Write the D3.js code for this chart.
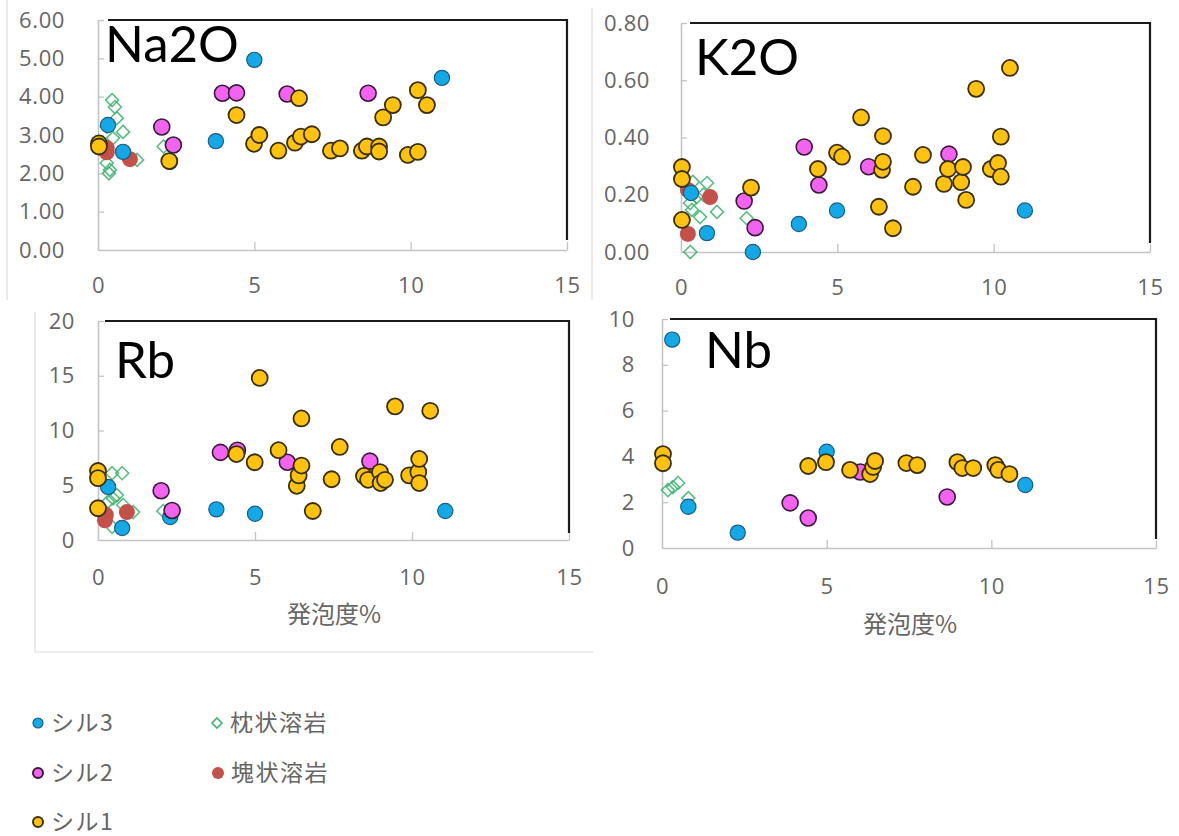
<!DOCTYPE html>
<html>
<head>
<meta charset="utf-8">
<script src="https://cdn.jsdelivr.net/npm/d3@7"></script>
<style>
  html, body { margin: 0; padding: 0; background: #fff; }
  svg { display: block; }
</style>
</head>
<body>
<svg id="chart" width="1179" height="836"></svg>
<script>
// 発泡度 (%) vs. composition for sills and lavas

const xTickValues = [0, 5, 10, 15];
const na2oTicks = [0, 1, 2, 3, 4, 5, 6];
const k2oTicks = [0, 0.2, 0.4, 0.6, 0.8];
const rbTicks = [0, 5, 10, 15, 20];
const nbTicks = [0, 2, 4, 6, 8, 10];

const seriesNames = ["シル3", "シル2", "シル1", "枕状溶岩", "塊状溶岩"];

// Na2O
const na2oSill3 = [[0.32,3.26],[0.8,2.56],[2.3,2.3],[3.77,2.84],[5.0,4.96],[11.0,4.49]];
const na2oSill2 = [[2.04,3.21],[2.41,2.74],[3.98,4.09],[4.43,4.10],[6.05,4.07],[8.64,4.09]];
const na2oSill1 = [[0.03,2.78],[0.03,2.70],[2.28,2.32],[4.43,3.52],[4.99,2.77],[5.16,3.00],[5.77,2.59],[6.3,2.80],[6.43,3.96],[6.49,2.96],[6.84,3.02],[7.45,2.59],[7.74,2.65],[8.44,2.59],[8.6,2.70],[8.99,2.70],[8.99,2.57],[9.12,3.46],[9.43,3.78],[9.91,2.48],[10.23,2.56],[10.23,4.17],[10.52,3.78]];
const na2oPillow = [[0.45,3.91],[0.54,3.73],[0.6,3.44],[0.8,3.08],[0.48,2.92],[0.28,3.22],[1.25,2.35],[0.28,2.27],[0.38,2.09],[0.22,2.53],[0.35,2.0],[2.1,2.70]];
const na2oBlock = [[0.28,2.66],[0.28,2.55],[1.02,2.37]];

// K2O
const k2oSill3 = [[0.32,0.206],[0.83,0.066],[2.3,0.0],[3.77,0.098],[4.99,0.145],[11.0,0.145]];
const k2oSill2 = [[2.02,0.178],[2.37,0.085],[3.94,0.367],[4.41,0.234],[6.0,0.298],[8.57,0.342]];
const k2oSill1 = [[0.03,0.297],[0.03,0.255],[0.03,0.112],[2.24,0.225],[4.38,0.29],[4.99,0.347],[5.15,0.333],[5.76,0.47],[6.33,0.158],[6.43,0.287],[6.46,0.315],[6.46,0.405],[6.78,0.083],[7.42,0.228],[7.74,0.339],[8.41,0.238],[8.54,0.29],[8.96,0.244],[9.02,0.297],[9.12,0.182],[9.44,0.57],[9.91,0.29],[10.14,0.311],[10.23,0.263],[10.23,0.403],[10.52,0.643]];
const k2oPillow = [[0.83,0.241],[0.5,0.192],[0.29,0.171],[0.61,0.122],[1.15,0.14],[0.35,0.147],[0.3,0.0],[2.1,0.118],[0.72,0.2],[0.38,0.245]];
const k2oBlock = [[0.22,0.217],[0.93,0.192],[0.22,0.063]];

// Rb
const rbSill3 = [[0.32,4.85],[0.77,1.1],[2.3,2.1],[3.77,2.8],[5.0,2.4],[11.06,2.65]];
const rbSill2 = [[2.01,4.5],[2.36,2.7],[3.9,8.0],[4.44,8.2],[6.03,7.1],[8.66,7.2]];
const rbSill1 = [[0.0,6.3],[0.0,5.65],[0.0,2.9],[4.41,7.85],[4.99,7.1],[5.15,14.8],[5.75,8.2],[6.33,4.95],[6.39,5.9],[6.48,6.8],[6.48,11.1],[6.84,2.65],[7.44,5.55],[7.7,8.5],[8.47,5.85],[8.6,5.5],[8.98,6.2],[9.0,5.2],[9.14,5.5],[9.46,12.2],[9.91,5.9],[10.2,6.2],[10.23,7.4],[10.23,5.2],[10.58,11.8]];
const rbPillow = [[0.77,6.1],[0.45,6.1],[0.48,3.8],[0.32,3.5],[0.6,4.1],[1.12,2.55],[0.45,1.2],[0.8,3.2],[2.08,2.65]];
const rbBlock = [[0.22,1.8],[0.25,2.3],[0.92,2.55]];

// Nb
const nbSill3 = [[0.31,9.1],[0.8,1.8],[2.3,0.67],[5.0,4.2],[11.03,2.75]];
const nbSill2 = [[3.89,1.97],[4.44,1.31],[6.02,3.32],[8.66,2.23]];
const nbSill1 = [[0.03,4.1],[0.03,3.7],[4.44,3.58],[4.98,3.75],[5.71,3.41],[6.32,3.23],[6.41,3.54],[6.47,3.8],[7.42,3.71],[7.75,3.62],[8.97,3.75],[9.12,3.49],[9.45,3.49],[10.12,3.62],[10.21,3.41],[10.55,3.23]];
const nbPillow = [[0.18,2.53],[0.33,2.66],[0.49,2.84],[0.8,2.18]];
const nbBlock = [];

// marker styles
const styles = {
  sill3:  { fill: "#12A9E6", stroke: "#1d5d86", sw: 1.2, r: 7.6 },
  sill2:  { fill: "#F264F0", stroke: "#3a1838", sw: 1.6, r: 8 },
  sill1:  { fill: "#FFC20E", stroke: "#3a2f05", sw: 1.8, r: 8 },
  block:  { fill: "#C4504B", stroke: "none", sw: 0, r: 8 }
};
const pillowColor = "#3DB36E";

const svg = d3.select("#chart");
const font = "Lato, 'Open Sans', 'Noto Sans', sans-serif";
const tickFont = "'Open Sans', 'Noto Sans', sans-serif";
const jpFont = "'Noto Sans CJK JP', 'Noto Sans', sans-serif";
const textGray = "#666666";

// faint chart-area frames
const frames = [
  [7, 0, 7, 300], [592, 8, 592, 300],
  [35, 312, 35, 652], [35, 652, 593, 652]
];
svg.append("g").selectAll("line").data(frames).join("line")
  .attr("x1", d => d[0]).attr("y1", d => d[1])
  .attr("x2", d => d[2]).attr("y2", d => d[3])
  .attr("stroke", "#dcdcdc").attr("stroke-width", 1.2);

const panels = [
  { name: "Na2O", left: 98, right: 567, top: 20, bottom: 250, ymax: 6, ticks: na2oTicks, fmt: d3.format(".2f"),
    ylabPad: 33, xlabPad: 27, titleX: 105, titleY: 62, frameStart: 108, frameEnd: 240,
    sill3: na2oSill3, sill2: na2oSill2, sill1: na2oSill1, pillow: na2oPillow, block: na2oBlock },
  { name: "K2O", left: 681, right: 1150, top: 23, bottom: 252, ymax: 0.8, ticks: k2oTicks, fmt: d3.format(".2f"),
    ylabPad: 31, xlabPad: 27, titleX: 695, titleY: 75, frameStart: 690, frameEnd: 243,
    sill3: k2oSill3, sill2: k2oSill2, sill1: k2oSill1, pillow: k2oPillow, block: k2oBlock },
  { name: "Rb", left: 98, right: 569, top: 321, bottom: 540, ymax: 20, ticks: rbTicks, fmt: d3.format("d"),
    ylabPad: 23, xlabPad: 29, titleX: 115, titleY: 378, frameStart: 105, frameEnd: 533, xTitle: true,
    sill3: rbSill3, sill2: rbSill2, sill1: rbSill1, pillow: rbPillow, block: rbBlock },
  { name: "Nb", left: 662, right: 1156, top: 319, bottom: 548, ymax: 10, ticks: nbTicks, fmt: d3.format("d"),
    ylabPad: 27, xlabPad: 30, titleX: 705, titleY: 368, frameStart: 670, frameEnd: 539, xTitle: true,
    sill3: nbSill3, sill2: nbSill2, sill1: nbSill1, pillow: nbPillow, block: nbBlock }
];

panels.forEach(p => {
  const x = d3.scaleLinear().domain([0, 15]).range([p.left, p.right]);
  const y = d3.scaleLinear().domain([0, p.ymax]).range([p.bottom, p.top]);
  const g = svg.append("g");

  // y axis
  const ya = g.append("g").attr("transform", `translate(${p.left},0)`)
    .call(d3.axisLeft(y).tickValues(p.ticks).tickFormat(p.fmt).tickSize(-6).tickSizeOuter(0).tickPadding(p.ylabPad));
  // x axis
  const xa = g.append("g").attr("transform", `translate(0,${p.bottom})`)
    .call(d3.axisBottom(x).tickValues(xTickValues).tickFormat(d3.format("d")).tickSize(-8).tickSizeOuter(0).tickPadding(p.xlabPad));
  [ya, xa].forEach(a => {
    a.select(".domain").attr("stroke", "#c4c4c4").attr("stroke-width", 1.6);
    a.selectAll(".tick line").attr("stroke", "#c4c4c4").attr("stroke-width", 1.3);
    a.selectAll(".tick text").attr("fill", textGray).style("font-family", tickFont)
      .style("font-size", "22px").style("letter-spacing", "0.6px");
  });
  ya.selectAll(".tick").filter(d => d === 0).select("line").remove();
  xa.selectAll(".tick").filter(d => d === 0).select("line").remove();

  // top and right frame
  g.append("path")
    .attr("d", `M${p.frameStart},${p.top}H${p.right}V${p.frameEnd}`)
    .attr("fill", "none").attr("stroke", "#1a1a1a").attr("stroke-width", 2.2);

  // pillow lava diamonds
  const dr = 6.5;
  g.append("g").selectAll("path").data(p.pillow).join("path")
    .attr("d", d => {
      const cx = x(d[0]), cy = y(d[1]);
      return `M${cx},${cy - dr}L${cx + dr},${cy}L${cx},${cy + dr}L${cx - dr},${cy}Z`;
    })
    .attr("fill", "none").attr("stroke", pillowColor).attr("stroke-width", 1.6).attr("opacity", 0.85);

  ["block", "sill3", "sill2", "sill1"].forEach(key => {
    const s = styles[key];
    g.append("g").selectAll("circle").data(p[key]).join("circle")
      .attr("cx", d => x(d[0])).attr("cy", d => y(d[1])).attr("r", s.r)
      .attr("fill", s.fill).attr("stroke", s.stroke).attr("stroke-width", s.sw);
  });

  // panel title
  g.append("text").attr("x", p.titleX).attr("y", p.titleY)
    .text(p.name).attr("fill", "#000")
    .style("font-family", font).style("font-size", "51px");

  if (p.xTitle) {
    g.append("text").attr("x", p.name === "Rb" ? 334 : 910).attr("y", p.name === "Rb" ? 623 : 633)
      .attr("text-anchor", "middle").attr("fill", textGray)
      .style("font-family", jpFont).style("font-size", "24px").text("発泡度%");
  }
});

// legend
const legendItems = [
  { key: "sill3", name: seriesNames[0], x: 38, y: 723 },
  { key: "sill2", name: seriesNames[1], x: 38, y: 773 },
  { key: "sill1", name: seriesNames[2], x: 38, y: 822 },
  { key: "pillow", name: seriesNames[3], x: 217, y: 723 },
  { key: "block", name: seriesNames[4], x: 218, y: 773 }
];
const lg = svg.append("g");
legendItems.forEach(it => {
  if (it.key === "pillow") {
    const r = 5;
    lg.append("path")
      .attr("d", `M${it.x},${it.y - r}L${it.x + r},${it.y}L${it.x},${it.y + r}L${it.x - r},${it.y}Z`)
      .attr("fill", "none").attr("stroke", pillowColor).attr("stroke-width", 1.6);
  } else {
    const s = styles[it.key];
    lg.append("circle").attr("cx", it.x).attr("cy", it.y).attr("r", it.key === "block" ? 6 : 5)
      .attr("fill", s.fill).attr("stroke", s.stroke).attr("stroke-width", it.key === "sill3" ? 1.2 : 2);
  }
  lg.append("text").attr("x", it.x + 13).attr("y", it.y + 8)
    .attr("fill", textGray).style("font-family", jpFont).style("font-size", "23px")
    .style("letter-spacing", "1.5px")
    .text(it.name);
});
</script>
</body>
</html>
